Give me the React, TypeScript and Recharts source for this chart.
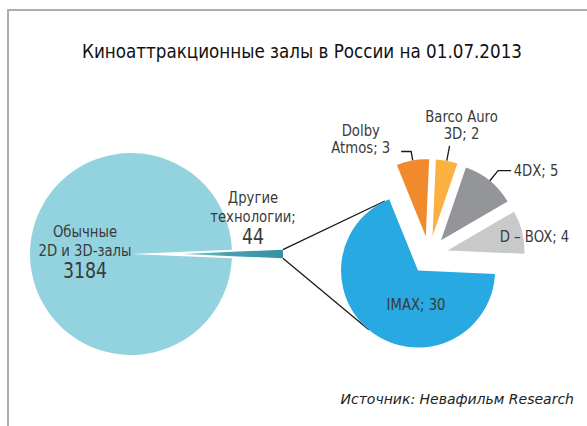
import { PieChart, Pie, Cell, Customized } from "recharts"

// left pie: all halls
const hallNames = ["Другие технологии", "Обычные 2D и 3D-залы"]
const hallValues = [44, 3184]
const hallLines = [["Другие", "технологии;"], ["Обычные", "2D и 3D-залы"]]

// right pie: breakdown of "other technologies"
const techNames = ["D – BOX", "4DX", "Barco Auro 3D", "Dolby Atmos", "IMAX"]
const techValues = [4, 5, 2, 3, 30]
const techLines = [["D – BOX"], ["4DX"], ["Barco Auro", "3D"], ["Dolby", "Atmos"], ["IMAX"]]

const title = "Киноаттракционные залы в России на 01.07.2013"
const source = "Источник: Невафильм Research"

const hallColors = ["url(#otherGrad)", "#93d3df"]
const techColors = ["#c8c9cb", "#939598", "#fbb040", "#f1892d", "#29a9e1"]

const FONT = "'Liberation Sans Narrow', 'DejaVu Sans Condensed', 'Arial Narrow', sans-serif"
const TEXT = "#3a3a3a"
const SQUEEZE = 0.92
const W = 587
const H = 426

const LEFT = { cx: 131, cy: 254, r: 101 }
const RIGHT = { cx: 429, cy: 255, r: 77 }
const hallExplode = [51, 0]
const techExplode = 19

// label block centre, offset from the (exploded) slice centre
const hallLabelPos = [{ dx: 71, dy: -37 }, { dx: -46, dy: -3 }]
const techLabelPos = [
  { dx: 87, dy: -14 },
  { dx: 95, dy: -70 },
  { dx: 29, dy: -111 },
  { dx: -65, dy: -97 },
  { dx: -2, dy: 34 },
]
const techLeader = [null, { radial: 13, run: 13 }, { radial: 15, run: 0 }, { radial: 9, run: -10 }, null]

const RAD = Math.PI / 180
const sum = (a: number[]) => a.reduce((x, y) => x + y, 0)
const polar = (cx: number, cy: number, r: number, deg: number) => ({
  x: cx + r * Math.cos(deg * RAD),
  y: cy - r * Math.sin(deg * RAD),
})

function sliceAngles(values: number[], start: number) {
  const total = sum(values)
  let acc = 0
  return values.map((v) => {
    const s = start + (acc / total) * 360
    acc += v
    const e = start + (acc / total) * 360
    return { s, e, mid: (s + e) / 2 }
  })
}

// small slice centred on 3 o'clock
const hallStart = -(hallValues[0] / sum(hallValues)) * 180
const techStart = -2.5
const hallAngles = sliceAngles(hallValues, hallStart)
const techAngles = sliceAngles(techValues, techStart)

const hallRows = hallNames.map((name, i) => ({ name, value: hallValues[i] }))
const techRows = techNames.map((name, i) => ({ name, value: techValues[i] }))

function tangent(p: { x: number; y: number }, c: { x: number; y: number }, r: number, upper: boolean) {
  const dx = p.x - c.x
  const dy = p.y - c.y
  const d = Math.hypot(dx, dy)
  const a = Math.acos(r / d)
  const th = Math.atan2(dy, dx)
  const t1 = { x: c.x + r * Math.cos(th + a), y: c.y + r * Math.sin(th + a) }
  const t2 = { x: c.x + r * Math.cos(th - a), y: c.y + r * Math.sin(th - a) }
  return upper ? (t1.y < t2.y ? t1 : t2) : t1.y > t2.y ? t1 : t2
}

// narrow text: condensed font squeezed a little more
function NarrowText({ x, y, size, children }: { x: number; y: number; size: number; children: any }) {
  return (
    <g transform={`translate(${x} ${y}) scale(${SQUEEZE} 1)`}>
      <text x={0} y={0} textAnchor="middle" dominantBaseline="central" fontFamily={FONT} fontSize={size} fill={TEXT}>
        {children}
      </text>
    </g>
  )
}

const hallLabel = (only: number) => (p: any) => {
  if (p.index !== only) return null
  const pos = hallLabelPos[only]
  const x = p.cx + pos.dx
  const y = p.cy + pos.dy
  return (
    <g>
      {hallLines[only].map((t, k) => (
        <NarrowText key={k} x={x} y={y + (k - 1) * 19} size={16}>{t}</NarrowText>
      ))}
      <NarrowText x={x} y={y + 19.5} size={21}>{hallValues[only]}</NarrowText>
    </g>
  )
}

const techLabel = (only: number) => (p: any) => {
  if (p.index !== only) return null
  const pos = techLabelPos[only]
  const x = p.cx + pos.dx
  const y = p.cy + pos.dy
  const lines = techLines[only].map((t, k, arr) => (k === arr.length - 1 ? `${t}; ${techValues[only]}` : t))
  const lead = techLeader[only]
  let path = null
  if (lead) {
    const a = polar(p.cx, p.cy, p.outerRadius, p.midAngle)
    const b = polar(p.cx, p.cy, p.outerRadius + lead.radial, p.midAngle)
    path = (
      <polyline points={`${a.x},${a.y} ${b.x},${b.y} ${b.x + lead.run},${b.y}`}
        fill="none" stroke="#1a1a1a" strokeWidth={1.3} />
    )
  }
  return (
    <g>
      {path}
      {lines.map((t, k) => (
        <NarrowText key={k} x={x} y={y + (k - (lines.length - 1) / 2) * 17.5} size={16}>{t}</NarrowText>
      ))}
    </g>
  )
}

function Overlay() {
  const e = polar(LEFT.cx, LEFT.cy, hallExplode[0], hallAngles[0].mid)
  const up = polar(e.x, e.y, LEFT.r, hallAngles[0].e)
  const lo = polar(e.x, e.y, LEFT.r, hallAngles[0].s)
  const imax = techAngles.length - 1
  const c = polar(RIGHT.cx, RIGHT.cy, techExplode, techAngles[imax].mid)
  const tu = tangent(up, c, RIGHT.r, true)
  const tl = tangent(lo, c, RIGHT.r, false)
  return (
    <g>
      <line x1={up.x} y1={up.y} x2={tu.x} y2={tu.y} stroke="#1a1a1a" strokeWidth={1.3} />
      <line x1={lo.x} y1={lo.y} x2={tl.x} y2={tl.y} stroke="#1a1a1a" strokeWidth={1.3} />
      <text x={302} y={51} textAnchor="middle" dominantBaseline="central" fontFamily={FONT} fontSize={19.5}
        textLength={440} lengthAdjust="spacingAndGlyphs" fill="#111">
        {title}
      </text>
      <text x={574} y={399} textAnchor="end" dominantBaseline="central" fontFamily="'DejaVu Sans', sans-serif"
        fontStyle="italic" fontSize={14} fill="#222">
        {source}
      </text>
    </g>
  )
}

export default function App() {
  return (
    <div style={{ position: "absolute", left: 0, top: 0, width: W, height: H, background: "#fff", overflow: "hidden" }}>
      <div style={{ position: "absolute", left: 7, top: 9, width: W, height: H, borderTop: "2px solid #adadad", borderLeft: "2px solid #adadad" }} />
      <PieChart width={W} height={H} margin={{ top: 0, right: 0, bottom: 0, left: 0 }} style={{ position: "absolute", left: 0, top: 0 }}>
        <defs>
          <linearGradient id="otherGrad" x1="0" y1="0" x2="1" y2="0">
            <stop offset="0%" stopColor="#8ccbd7" />
            <stop offset="45%" stopColor="#4a9fb0" />
            <stop offset="100%" stopColor="#3592a4" />
          </linearGradient>
        </defs>
        {hallRows.map((_, i) => {
          const c = polar(LEFT.cx, LEFT.cy, hallExplode[i], hallAngles[i].mid)
          return (
            <Pie key={`h${i}`} data={hallRows} dataKey="value" nameKey="name" cx={c.x} cy={c.y}
              outerRadius={LEFT.r} startAngle={hallStart} endAngle={hallStart + 360}
              stroke="none" isAnimationActive={false} label={hallLabel(i)} labelLine={false}>
              {hallRows.map((__, j) => (
                <Cell key={j} fill={j === i ? hallColors[j] : "none"} />
              ))}
            </Pie>
          )
        })}
        {techRows.map((_, i) => {
          const c = polar(RIGHT.cx, RIGHT.cy, techExplode, techAngles[i].mid)
          return (
            <Pie key={`t${i}`} data={techRows} dataKey="value" nameKey="name" cx={c.x} cy={c.y}
              outerRadius={RIGHT.r} startAngle={techStart} endAngle={techStart + 360}
              stroke="none" isAnimationActive={false} label={techLabel(i)} labelLine={false}>
              {techRows.map((__, j) => (
                <Cell key={j} fill={j === i ? techColors[j] : "none"} />
              ))}
            </Pie>
          )
        })}
        <Customized component={<Overlay />} />
      </PieChart>
    </div>
  )
}
